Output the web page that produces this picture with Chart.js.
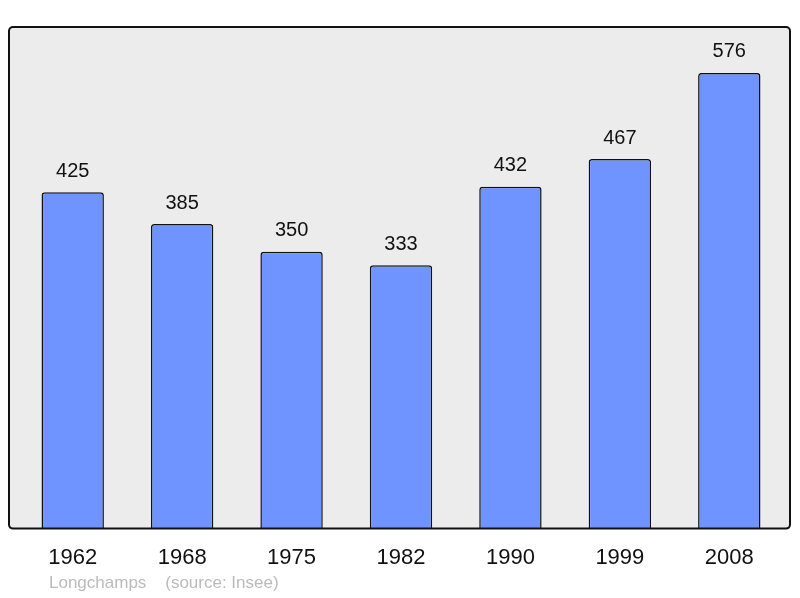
<!DOCTYPE html>
<html lang="fr">
<head>
  <meta charset="UTF-8" />
  <title>Longchamps population</title>
  <script src="https://cdn.jsdelivr.net/npm/chart.js"></script>
  <style>
    body { margin: 0; padding: 0; background: #ffffff; }
    .wrap { width: 800px; height: 598px; }
  </style>
</head>
<body>
  <div class="wrap"><canvas id="popChart" width="800" height="598"></canvas></div>
  <script>
    const years = ['1962', '1968', '1975', '1982', '1990', '1999', '2008'];
    const population = [425, 385, 350, 333, 432, 467, 576];
    const footer = 'Longchamps    (source: Insee)';

    // grey frame behind the bars, black border on top of them
    const frame = {
      id: 'frame',
      beforeDatasetsDraw(chart) {
        const { ctx, chartArea } = chart;
        ctx.save();
        ctx.fillStyle = '#ececec';
        ctx.beginPath();
        ctx.roundRect(9, chartArea.top, 781, chartArea.bottom - chartArea.top, 4);
        ctx.fill();
        ctx.restore();
      },
      afterDatasetsDraw(chart) {
        const { ctx, chartArea } = chart;
        ctx.save();
        ctx.strokeStyle = '#111';
        ctx.lineWidth = 2;
        ctx.beginPath();
        ctx.roundRect(9, chartArea.top, 781, chartArea.bottom - chartArea.top, 4);
        ctx.stroke();

        // value labels
        ctx.fillStyle = '#111';
        ctx.font = '20px "Liberation Sans", Arial, sans-serif';
        ctx.textAlign = 'center';
        ctx.textBaseline = 'middle';
        chart.getDatasetMeta(0).data.forEach((bar, i) => {
          ctx.fillText(population[i], bar.x, bar.y - 21);
        });

        // source line
        ctx.fillStyle = '#bbbbbb';
        ctx.font = '17px "Liberation Sans", Arial, sans-serif';
        ctx.textAlign = 'left';
        ctx.fillText(footer, 49, 583);
        ctx.restore();
      }
    };

    new Chart(document.getElementById('popChart'), {
      type: 'bar',
      data: {
        labels: years,
        datasets: [{
          data: population,
          backgroundColor: '#7094ff',
          borderColor: '#111',
          borderWidth: 1.5,
          borderRadius: 3,
          borderSkipped: 'bottom',
          categoryPercentage: 1,
          barPercentage: 0.57
        }]
      },
      options: {
        responsive: false,
        animation: false,
        layout: { padding: { left: 18, right: 16, top: 27, bottom: 19 } },
        plugins: { legend: { display: false }, tooltip: { enabled: false } },
        scales: {
          x: {
            grid: { display: false },
            border: { display: false },
            ticks: {
              color: '#111',
              padding: 8,
              font: { family: '"Liberation Sans", Arial, sans-serif', size: 22 }
            }
          },
          y: { display: false, min: 0, max: 634 }
        }
      },
      plugins: [frame]
    });
  </script>
</body>
</html>
